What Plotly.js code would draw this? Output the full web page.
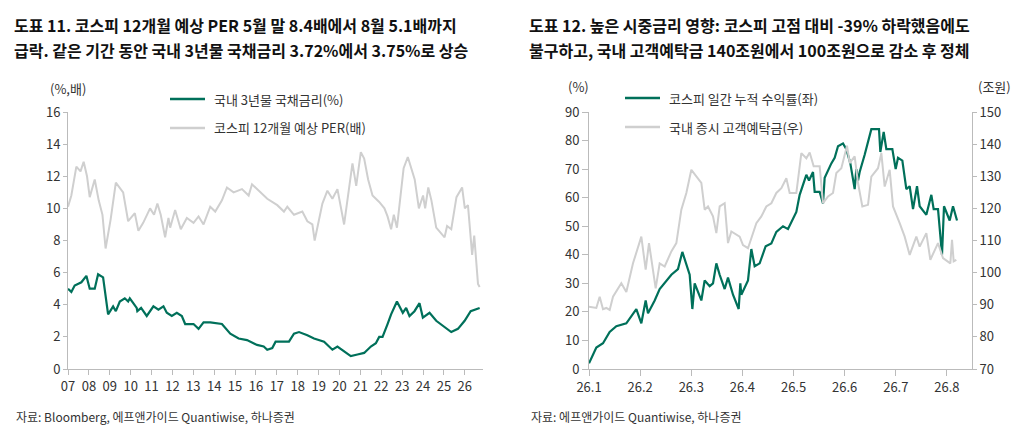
<!DOCTYPE html>
<html><head><meta charset="utf-8">
<script src="https://cdn.plot.ly/plotly-3.0.1.min.js"></script>
<style>body{margin:0;background:#fff}#c{width:1025px;height:439px}</style>
</head><body><div id="c"></div>
<script>
const perYear=[2007.0,2007.16,2007.4,2007.6,2007.75,2007.91,2008.04,2008.28,2008.47,2008.65,2008.8,2009.04,2009.29,2009.64,2009.88,2010.2,2010.37,2010.6,2010.93,2011.12,2011.28,2011.44,2011.65,2011.81,2011.89,2012.13,2012.4,2012.69,2013.01,2013.25,2013.49,2013.81,2014.05,2014.37,2014.61,2014.93,2015.33,2015.65,2015.81,2016.13,2016.54,2017.02,2017.34,2017.5,2017.82,2018.22,2018.46,2018.7,2018.81,2019.18,2019.42,2019.66,2019.9,2020.22,2020.62,2020.8,2021.02,2021.18,2021.37,2021.58,2021.9,2022.15,2022.3,2022.47,2022.6,2022.75,2022.95,2023.07,2023.27,2023.6,2023.8,2024.0,2024.1,2024.25,2024.4,2024.63,2025.03,2025.15,2025.35,2025.6,2025.87,2026.0,2026.15,2026.35,2026.45,2026.55,2026.63,2026.71];
const perVal=[10.1,10.8,12.6,12.3,12.9,12.0,10.7,11.8,10.5,9.6,7.5,9.3,11.6,11.0,9.2,9.7,8.6,9.1,10.0,9.6,10.3,9.6,8.2,9.4,8.8,9.9,8.7,9.4,9.1,9.5,9.0,10.1,9.8,10.5,11.3,11.0,11.2,10.8,11.5,11.1,10.6,10.2,9.8,10.1,9.6,9.8,9.2,9.0,8.0,10.3,11.1,10.6,11.2,9.0,12.8,11.4,13.5,13.1,11.8,10.8,10.4,10.0,9.5,8.7,9.6,8.8,11.2,12.5,13.2,11.8,10.0,10.8,10.0,11.3,10.5,8.8,8.2,8.9,8.7,10.7,11.3,10.0,10.2,7.1,8.3,6.5,5.3,5.1];
const rateYear=[2007.0,2007.16,2007.32,2007.64,2007.88,2008.04,2008.28,2008.44,2008.68,2008.81,2008.92,2009.16,2009.29,2009.48,2009.72,2009.88,2009.96,2010.29,2010.32,2010.5,2010.77,2011.09,2011.33,2011.57,2011.73,2011.97,2012.21,2012.45,2012.61,2013.01,2013.25,2013.49,2013.81,2014.37,2014.77,2015.17,2015.57,2016.05,2016.37,2016.54,2016.78,2016.94,2017.58,2017.82,2018.06,2018.46,2018.78,2019.26,2019.66,2019.9,2020.3,2020.54,2020.86,2021.18,2021.5,2021.74,2021.9,2022.06,2022.3,2022.47,2022.75,2023.03,2023.19,2023.35,2023.59,2023.83,2023.99,2024.31,2024.63,2025.03,2025.35,2025.67,2025.99,2026.28,2026.71];
const rateVal=[5.0,4.8,5.2,5.4,5.8,5.0,5.0,5.9,5.7,4.5,3.4,3.9,3.6,4.2,4.4,4.2,4.4,3.8,3.6,3.8,3.3,3.9,3.7,3.9,3.5,3.3,3.5,3.3,2.8,2.8,2.5,2.9,2.9,2.8,2.2,1.9,1.8,1.5,1.4,1.2,1.3,1.7,1.7,2.2,2.3,2.1,1.9,1.7,1.2,1.4,1.0,0.8,0.9,1.0,1.4,1.6,2.0,2.0,2.8,3.4,4.2,3.5,3.8,3.3,3.6,4.1,3.2,3.5,3.0,2.6,2.3,2.5,3.0,3.6,3.8];
const leftTicks=['07','08','09','10','11','12','13','14','15','16','17','18','19','20','21','22','23','24','25','26'];

const kospiZx=[148,170,190,210,230,260,290,305,318,325,345,360,395,415,428,450,458,465,485,495,510,520,530,540,555,565,580,597,602,605,625,635,645,660,678,695,710,730,745,770,780,800,808,820,825,840,850,855,875,885,895,910,920,932,945,950,955,960,975,995,1018,1022,1032,1040,1058,1068,1075,1088,1100,1110,1120,1132,1140,1160,1175,1182,1195,1207,1213,1230,1240,1252];
const kospiVal=[2,7.5,9,13,15,16,21,16,24,19.5,24,28,33,35,41,33,21,30,24,31,29,30,37,33,28,32,26,21,30,26,31,42,36,37,43,44,48,50,49,55,61,68,66,69,62,62,58,67,72,74,78,79,77,72,63,70,66,69,75,84,84,76,83,77,77,70,74,73,63,64,56,64,57,54,61,56,56,40,57,52,57,52];
const depZx=[148,170,180,190,200,210,220,245,260,280,305,318,328,348,360,375,395,410,425,440,455,470,485,495,505,520,530,540,555,565,575,600,610,625,650,665,680,695,710,725,740,750,770,785,800,810,822,840,850,865,880,890,905,922,930,945,955,968,985,995,1015,1025,1035,1050,1060,1080,1095,1110,1130,1140,1160,1172,1195,1210,1232,1237,1242,1250];
const depVal=[89.4,89,92.5,88.6,89,88.4,92.5,96.7,94,102.9,111.2,100.9,109.2,95.1,102.9,101.9,106.6,109.2,119.6,124.8,132,130,127.9,119.6,120.6,117.5,112.3,120.6,121.6,109.2,112.8,111.2,108.6,107.6,115.4,117.5,120.6,121.6,124.8,126.3,129.4,124.8,124.8,137.2,135.6,137.4,133.1,133.1,121.6,123.7,124.8,131,132.5,139.5,134.1,136.2,127.9,120.6,121.1,129.9,132.5,137.2,126.8,132,120.6,115.4,111.2,105.5,111.2,108.1,112.3,104,109.2,104.5,102.9,110.2,103.5,104];
const rightTicks=['26.1','26.2','26.3','26.4','26.5','26.6','26.7','26.8'];
const toM=z=>1+(z-148)/153.4;

const G='#00705a', L='#cfcfcf', F='"Noto Sans CJK KR","Noto Sans",sans-serif';
const tf={family:F,size:13,color:'#333'};
const traces=[
 {x:perYear,y:perVal,type:'scatter',mode:'lines',line:{color:L,width:2},xaxis:'x',yaxis:'y'},
 {x:rateYear,y:rateVal,type:'scatter',mode:'lines',line:{color:G,width:2.2},xaxis:'x',yaxis:'y'},
 {x:depZx.map(toM),y:depVal,type:'scatter',mode:'lines',line:{color:L,width:2},xaxis:'x2',yaxis:'y3'},
 {x:kospiZx.map(toM),y:kospiVal,type:'scatter',mode:'lines',line:{color:G,width:2.2},xaxis:'x2',yaxis:'y2'}
];
const ax={showgrid:false,zeroline:false,showline:true,linecolor:'#bbb',ticks:'outside',ticklen:4,tickcolor:'#bbb',tickfont:tf};
const layout={width:1025,height:439,margin:{l:0,r:0,t:0,b:0},showlegend:false,paper_bgcolor:'#fff',plot_bgcolor:'#fff',font:{family:F},
 xaxis:Object.assign({},ax,{domain:[68/1025,483/1025],range:[2007,2026.87],tickvals:leftTicks.map((t,i)=>2007+i),ticktext:leftTicks,anchor:'y',ticklen:5}),
 yaxis:Object.assign({},ax,{domain:[1-369/439,1-112/439],range:[0,16],dtick:2,anchor:'x'}),
 xaxis2:Object.assign({},ax,{domain:[589/1025,972/1025],range:[1,8.49],tickvals:rightTicks.map((t,i)=>i+1),ticktext:rightTicks,anchor:'y2',ticklen:6}),
 yaxis2:Object.assign({},ax,{domain:[1-369/439,1-112/439],range:[0,90],dtick:10,anchor:'x2',ticklen:6}),
 yaxis3:Object.assign({},ax,{overlaying:'y2',side:'right',range:[70,150],dtick:10,anchor:'x2'}),
 shapes:[
  {type:'line',xref:'paper',yref:'paper',x0:170/1025,x1:205/1025,y0:1-99/439,y1:1-99/439,line:{color:G,width:2.5}},
  {type:'line',xref:'paper',yref:'paper',x0:170/1025,x1:205/1025,y0:1-128/439,y1:1-128/439,line:{color:L,width:2.5}},
  {type:'line',xref:'paper',yref:'paper',x0:625/1025,x1:660/1025,y0:1-98/439,y1:1-98/439,line:{color:G,width:2.5}},
  {type:'line',xref:'paper',yref:'paper',x0:625/1025,x1:660/1025,y0:1-127/439,y1:1-127/439,line:{color:L,width:2.5}}
 ],
 annotations:[]
};
function A(x,y,t,o){layout.annotations.push(Object.assign({xref:'paper',yref:'paper',x:x/1025,y:1-y/439,text:t,showarrow:false,xanchor:'left',yanchor:'middle',font:{family:F,size:13,color:'#333'}},o||{}));}
const TF={family:F,size:16,color:'#111'};
A(12,25,'<b>도표 11. 코스피 12개월 예상 PER 5월 말 8.4배에서 8월 5.1배까지</b>',{font:TF});
A(12,50,'<b>급락. 같은 기간 동안 국내 3년물 국채금리 3.72%에서 3.75%로 상승</b>',{font:TF});
A(527,25,'<b>도표 12. 높은 시중금리 영향: 코스피 고점 대비 -39% 하락했음에도</b>',{font:TF});
A(527,50,'<b>불구하고, 국내 고객예탁금 140조원에서 100조원으로 감소 후 정체</b>',{font:TF});
A(48,88,'(%,배)');
A(566,86,'(%)');
A(976,86,'(조원)');
A(212,99,'국내 3년물 국채금리(%)');
A(212,128,'코스피 12개월 예상 PER(배)');
A(667,98,'코스피 일간 누적 수익률(좌)');
A(667,127,'국내 증시 고객예탁금(우)');
A(14,416,'자료: Bloomberg, 에프앤가이드 Quantiwise, 하나증권',{font:{family:F,size:12,color:'#333'}});
A(529,416,'자료: 에프앤가이드 Quantiwise, 하나증권',{font:{family:F,size:12,color:'#333'}});
Plotly.newPlot('c',traces,layout,{staticPlot:true});
</script></body></html>
